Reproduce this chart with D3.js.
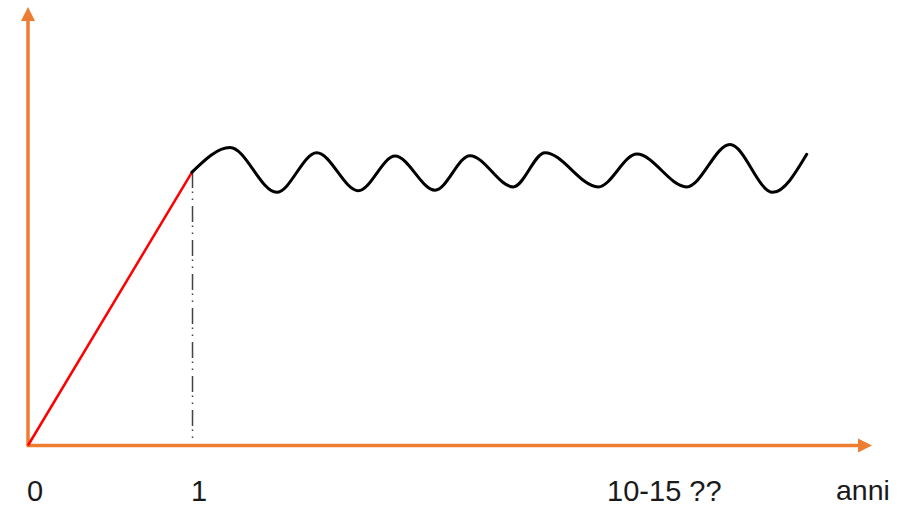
<!DOCTYPE html>
<html>
<head>
<meta charset="utf-8">
<script src="https://cdn.jsdelivr.net/npm/d3@7"></script>
<style>
  html, body { margin: 0; padding: 0; background: #fff; }
  svg { display: block; }
  text { font-family: "Liberation Sans", Arial, sans-serif; fill: #1a1a1a; }
</style>
</head>
<body>
<svg id="chart" width="901" height="506"></svg>
<script>
// Growth phase: straight rise during the first year
const growthT = [0, 1];
const growthV = [0, 1];

// Plateau afterwards: oscillation around a steady level
const plateauT = [1.0, 1.232, 1.516, 1.760, 2.014, 2.238, 2.482, 2.695, 2.959,
                  3.152, 3.477, 3.712, 4.016, 4.280, 4.541, 4.748];
const plateauV = [1.0, 1.090, 0.926, 1.071, 0.932, 1.059, 0.934, 1.060, 0.946,
                  1.071, 0.946, 1.066, 0.946, 1.101, 0.926, 1.065];

// Labels along the time axis
const tickT = [0, 1, 3.537];
const tickLabels = ["0", "1", "10-15 ??"];
const axisTitle = "anni";

const orange = "#ED7D31";
const svg = d3.select("#chart");

const x = d3.scaleLinear().domain([0, 5.146]).range([28, 872]);
const y = d3.scaleLinear().domain([0, 1.604]).range([445.5, 7]);

// Axes drawn as arrows
svg.append("line")
  .attr("x1", x(0)).attr("y1", y(0))
  .attr("x2", x(0)).attr("y2", y(1.604) + 12)
  .attr("stroke", orange).attr("stroke-width", 3.5);
svg.append("path")
  .attr("d", `M${x(0)},${y(1.604)} L${x(0) - 7},${y(1.604) + 14} L${x(0) + 7},${y(1.604) + 14} Z`)
  .attr("fill", orange);

svg.append("line")
  .attr("x1", x(0) - 1.5).attr("y1", y(0))
  .attr("x2", x(5.146) - 12).attr("y2", y(0))
  .attr("stroke", orange).attr("stroke-width", 3.5);
svg.append("path")
  .attr("d", `M${x(5.146)},${y(0)} L${x(5.146) - 14},${y(0) - 7} L${x(5.146) - 14},${y(0) + 7} Z`)
  .attr("fill", orange);

// Dash-dot-dot marker at one year
svg.append("line")
  .attr("x1", x(1) + 0.5).attr("y1", y(growthV[1]))
  .attr("x2", x(1) + 0.5).attr("y2", y(0) - 2)
  .attr("stroke", "#444").attr("stroke-width", 1.5)
  .attr("stroke-dasharray", "16,3.5,1.5,5.5,1.5,6");

// Growth line
const growth = growthT.map((t, i) => [t, growthV[i]]);
svg.append("path")
  .datum(growth)
  .attr("d", d3.line().x(d => x(d[0])).y(d => y(d[1])))
  .attr("fill", "none").attr("stroke", "#FF0000").attr("stroke-width", 2.5);

// Plateau wave
const plateau = plateauT.map((t, i) => [t, plateauV[i]]);
svg.append("path")
  .datum(plateau)
  .attr("d", d3.line().x(d => x(d[0])).y(d => y(d[1])).curve(d3.curveMonotoneX))
  .attr("fill", "none").attr("stroke", "#000").attr("stroke-width", 3)
  .attr("stroke-linejoin", "round").attr("stroke-linecap", "round");

// Tick labels
svg.selectAll("text.tick")
  .data(tickT)
  .join("text")
  .attr("class", "tick")
  .attr("x", d => x(d) - 1)
  .attr("y", 500.5)
  .attr("font-size", 29)
  .text((d, i) => tickLabels[i]);

svg.append("text")
  .attr("x", 836).attr("y", 499.5)
  .attr("font-size", 28.5)
  .text(axisTitle);
</script>
</body>
</html>
